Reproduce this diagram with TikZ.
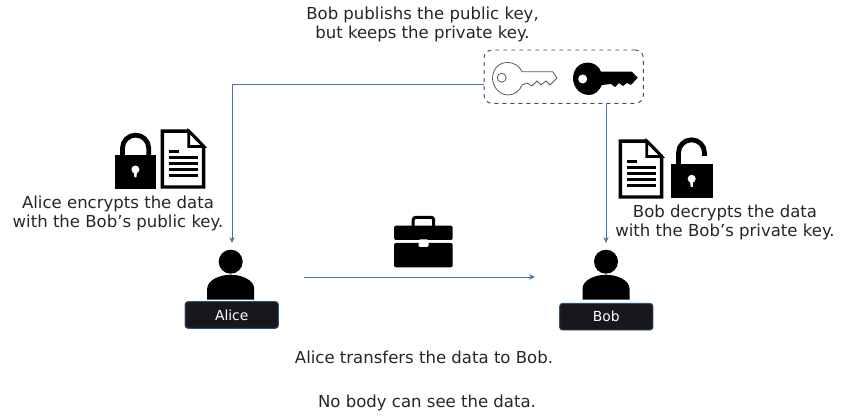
\documentclass[tikz,border=0pt]{standalone}
\usepackage{fontspec}
\setmainfont{DejaVu Sans}
\usetikzlibrary{arrows.meta}

\definecolor{flowblue}{RGB}{68,114,168}
\definecolor{boxblue}{RGB}{47,80,120}
\definecolor{namefill}{RGB}{24,24,28}

\tikzset{every picture/.style={line width=0.75pt},
  caption/.style={font=\fontsize{12.4}{14.2}\selectfont,align=center,text=black!85,inner sep=0pt},
  namebox/.style={draw=boxblue,fill=namefill,rounded corners=2.2pt,line width=0.7pt,minimum width=70pt,minimum height=20pt,inner sep=0pt,text=white,font=\fontsize{10.4}{12}\selectfont},
  flow/.style={draw=flowblue,line width=0.7pt,-{Stealth[length=4.5pt,width=4pt]}},
  pics/person/.style={code={
    \fill (0,0) circle (12);
    \fill (-23.5,38) -- (-23.5,27) .. controls (-23.5,18) and (-10,13) .. (0,13) .. controls (10,13) and (23.5,18) .. (23.5,27) -- (23.5,38) -- cycle;
  }},
  pics/paper/.style={code={
    \draw[line width=2.6pt,fill=white,line join=miter] (1.7,1.7) -- (28,1.7) -- (43,17) -- (43,57.5) -- (1.7,57.5) -- cycle;
    \draw[line width=2pt,fill=white] (28,1.7) -- (28,17) -- (43,17) -- cycle;
    \draw[line width=1.7pt] (8,22) -- (18,22);
    \foreach \yy in {28,34,40,46} \draw[line width=1.7pt] (8,\yy) -- (37,\yy);
  }},
  pics/lockbody/.style={code={
    \fill (0,0) rectangle (41.5,34);
    \fill[white] (20.7,14.5) circle (4) (19,16) -- (22.4,16) -- (21.7,22.5) -- (19.7,22.5) -- cycle;
  }}
}

\begin{document}
\begin{tikzpicture}[x=0.75pt,y=0.75pt,yscale=-1,xscale=1]
\useasboundingbox (0,0) rectangle (846,420);

%Key box
\node (keybox) [draw=boxblue,dashed,rounded corners=6pt,line width=0.7pt,minimum width=119.5pt,minimum height=40pt,inner sep=0pt] at (563.7,76.7) {};

%Outline key
\draw [draw=black!65,line width=0.6pt,fill=white] (522,71.7) .. controls (517,60) and (499,59) .. (494,71) .. controls (489,82) and (497,95) .. (508,95) .. controls (514,95) and (520,91) .. (522,85) -- (527,83) -- (532,86) -- (537,81) -- (541,85) -- (546,81) -- (550,85) -- (557,78) -- (552.7,71.7) -- cycle;
\draw [draw=black!65,line width=0.6pt] (501.7,77.7) circle (4.5);

%Black key
\fill (601,71.7) .. controls (597,60) and (579,59) .. (574,72) .. controls (570,85) and (579,95) .. (589,95) .. controls (595,95) and (599,91) .. (602,85) -- (611,84) -- (615,87) -- (619,83) -- (623,86) -- (627,83) -- (631,85) -- (637.7,77.7) -- (631.7,71.7) -- cycle;
\fill [white] (582.7,79) circle (4.5);

%Left lock and paper
\draw [line width=3.6pt] (122.5,155) -- (122.5,148.2) arc [start angle=180,end angle=360,radius=13.1] -- (148.7,155);
\pic [transform shape] at (114.7,155) {lockbody};
\pic [transform shape] at (160.7,129.5) {paper};

%Right lock and paper
\pic [transform shape] at (618.7,139.5) {paper};
\draw [line width=3.6pt] (678.5,164.3) -- (678.5,152.8) arc [start angle=180,end angle=360,radius=13] -- (704.5,156);
\pic [transform shape] at (671,164.3) {lockbody};

%People
\pic [transform shape] at (230.7,261.7) {person};
\pic [transform shape] at (606,261.7) {person};
\node (alicebox) [namebox] at (231.7,315) {Alice};
\node (bobbox) [namebox] at (606.3,316.7) {Bob};

%Briefcase
\draw [line width=2.3pt,rounded corners=2pt] (413.2,226) -- (413.2,217.3) -- (433.7,217.3) -- (433.7,226);
\fill [rounded corners=1.5pt] (394,240) -- (394,225.7) -- (452.7,225.7) -- (452.7,240) -- cycle;
\fill [rounded corners=1.5pt] (394,243) -- (394,267.3) -- (452.7,267.3) -- (452.7,243) -- cycle;
\fill [white,rounded corners=1pt] (418.5,239.5) rectangle (428.5,247);

%Flow ends
\coordinate (turn) at (232,84);
\coordinate (alicein) at (232,243);
\coordinate (bobin) at (606,243);
\coordinate (sendout) at (304,277);
\coordinate (sendin) at (535,277);

%Straight Lines
\draw [flow] (keybox.west |- turn) -- (turn) -- (alicein);
\draw [flow] (bobin |- keybox.south) -- (bobin);
\draw [flow] (sendout) -- (sendin);

% Text Node
\node (pubtext) [caption] at (422.5,24) {Bob publishs the public key,\\but keeps the private key.};
\node (enctext) [caption] at (118,213) {Alice encrypts the data\\with the Bob’s public key.};
\node (dectext) [caption] at (725,222) {Bob decrypts the data\\with the Bob’s private key.};
\node (sendtext) [caption] at (424,357) {Alice transfers the data to Bob.};
\node (hidetext) [caption] at (427,403) {No body can see the data.};

\end{tikzpicture}
\end{document}
